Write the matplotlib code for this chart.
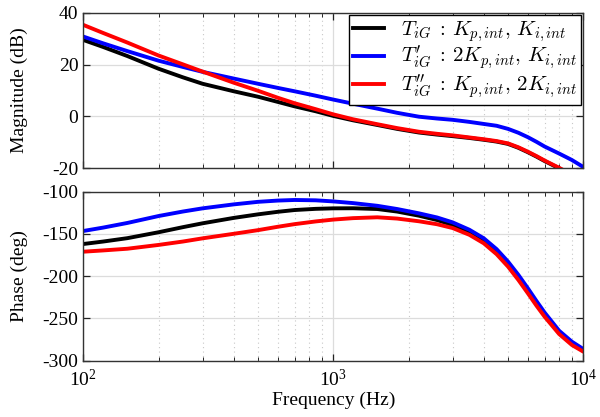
import numpy as np
import matplotlib
matplotlib.use("Agg")
import matplotlib.pyplot as plt
from matplotlib.ticker import FixedLocator, LogLocator, NullFormatter, FuncFormatter

plt.rcParams["font.family"] = ["Liberation Serif", "DejaVu Serif"]
plt.rcParams["mathtext.fontset"] = "cm"
plt.rcParams["axes.unicode_minus"] = False

# -----------------------------
# Values
# -----------------------------
freq = [100, 120, 150, 200, 250, 300, 400, 500, 600, 700, 850, 1000, 1200,
        1500, 1800, 2200, 2600, 3000, 3500, 4000, 4500, 5000, 5500, 6000,
        6500, 7000, 8000, 9000, 10000]

mag_base = [29.5, 26.8, 23.3, 18.4, 15.1, 12.6, 9.7, 7.6, 5.6, 3.9, 2.0, 0.2,
            -1.5, -3.3, -4.8, -6.2, -7.0, -7.6, -8.3, -9.0, -9.7, -10.6,
            -12.1, -13.8, -15.5, -17.2, -20.0, -22.7, -25.2]
mag_2kp = [30.8, 28.2, 25.2, 21.5, 19.1, 17.2, 14.6, 12.6, 11.0, 9.7, 8.0, 6.5,
           4.9, 3.0, 1.4, -0.1, -0.8, -1.3, -2.1, -2.9, -3.6, -4.8, -6.3,
           -8.0, -9.8, -11.6, -14.3, -16.8, -19.5]
mag_2ki = [35.3, 32.2, 28.5, 23.5, 20.1, 17.3, 13.0, 9.9, 7.2, 5.1, 2.8, 0.8,
           -1.1, -3.0, -4.5, -5.9, -6.7, -7.3, -8.1, -8.8, -9.5, -10.4,
           -11.9, -13.6, -15.3, -17.0, -19.8, -22.5, -25.0]

ph_base = [-161.9, -159.0, -155.0, -148.0, -142.0, -137.4, -131.0, -126.8,
           -123.8, -121.7, -120.3, -119.7, -119.6, -120.5, -123.5, -128.4,
           -133.5, -139.5, -147.5, -157.5, -170.0, -185.5, -201.0, -217.0,
           -232.0, -245.0, -266.0, -279.0, -288.0]
ph_2kp = [-146.5, -142.5, -137.0, -128.8, -123.5, -119.7, -115.0, -112.0,
          -110.5, -109.8, -110.2, -111.5, -113.5, -116.7, -120.5, -125.6,
          -130.5, -136.3, -145.0, -155.2, -168.0, -182.8, -198.5, -214.3,
          -229.5, -243.0, -264.5, -277.5, -286.2]
ph_2ki = [-171.0, -169.5, -167.5, -163.0, -159.0, -155.2, -149.8, -145.5,
          -141.5, -138.4, -135.2, -133.0, -131.3, -130.3, -131.8, -135.0,
          -138.5, -143.0, -151.0, -161.1, -174.0, -188.7, -204.5, -220.2,
          -235.0, -247.9, -268.4, -281.4, -289.3]

labels = [r"$T_{iG}\;:\,K_{p,int},\,K_{i,int}$",
          r"$T_{iG}^{\prime}\;:\,2K_{p,int},\,K_{i,int}$",
          r"$T_{iG}^{\prime\prime}\;:\,K_{p,int},\,2K_{i,int}$"]
colors = ["black", "blue", "red"]

mag_yticks = [-20, 0, 20, 40]
ph_yticks = [-300, -250, -200, -150, -100]

# -----------------------------
# Figure
# -----------------------------
fig = plt.figure(figsize=(6.0, 4.17), dpi=100)
ax1 = fig.add_axes([0.1388, 0.5964, 0.8334, 0.3731])
ax2 = fig.add_axes([0.1388, 0.1350, 0.8334, 0.4053], sharex=ax1)

lw = 2.8
for y, c, lab in zip([mag_base, mag_2kp, mag_2ki], colors, labels):
    ax1.plot(freq, y, color=c, linewidth=lw, label=lab, solid_joinstyle="round")
for y, c in zip([ph_base, ph_2kp, ph_2ki], colors):
    ax2.plot(freq, y, color=c, linewidth=lw, solid_joinstyle="round")


def sci_fmt(v, pos):
    e = int(round(np.log10(v)))
    return r"$\mathregular{10^{%d}}$" % e


for ax, yt in [(ax1, mag_yticks), (ax2, ph_yticks)]:
    ax.set_xscale("log")
    ax.set_xlim(100, 10000)
    ax.set_ylim(yt[0], yt[-1])
    ax.yaxis.set_major_locator(FixedLocator(yt))
    ax.xaxis.set_major_locator(LogLocator(base=10, numticks=10))
    ax.xaxis.set_minor_locator(LogLocator(base=10, subs=np.arange(2, 10), numticks=10))
    ax.xaxis.set_minor_formatter(NullFormatter())
    ax.grid(True, which="major", color="#dcdcdc", linewidth=0.9, linestyle="-")
    ax.grid(True, which="minor", axis="x", color="#c8c8c8", linewidth=0.8,
            linestyle=(0, (1, 3)))
    ax.set_axisbelow(True)
    ax.tick_params(which="both", direction="in", top=True, right=True,
                   labelsize=14, colors="#222222", labelcolor="black")
    ax.tick_params(which="major", length=5, width=0.9)
    ax.tick_params(which="minor", length=3, width=0.7)
    for s in ax.spines.values():
        s.set_color("#333333")
        s.set_linewidth(1.0)

ax1.tick_params(axis="x", which="both", labelbottom=False)
ax2.xaxis.set_major_formatter(FuncFormatter(sci_fmt))
ax2.tick_params(axis="x", pad=6)

ax1.set_ylabel("Magnitude (dB)", fontsize=14)
ax2.set_ylabel("Phase (deg)", fontsize=14)
ax1.yaxis.set_label_coords(-0.11, 0.5)
ax2.yaxis.set_label_coords(-0.11, 0.5)
ax2.set_xlabel("Frequency (Hz)", fontsize=14, labelpad=1)

leg = ax1.legend(loc="upper right", bbox_to_anchor=(1.0, 1.0), fontsize=15,
                 frameon=True, fancybox=False, framealpha=1, edgecolor="black",
                 borderaxespad=0.1, handlelength=1.5, handletextpad=0.8,
                 labelspacing=0.0, borderpad=0.2)
leg.get_frame().set_linewidth(1.0)

fig.savefig("out.png", dpi=100)
